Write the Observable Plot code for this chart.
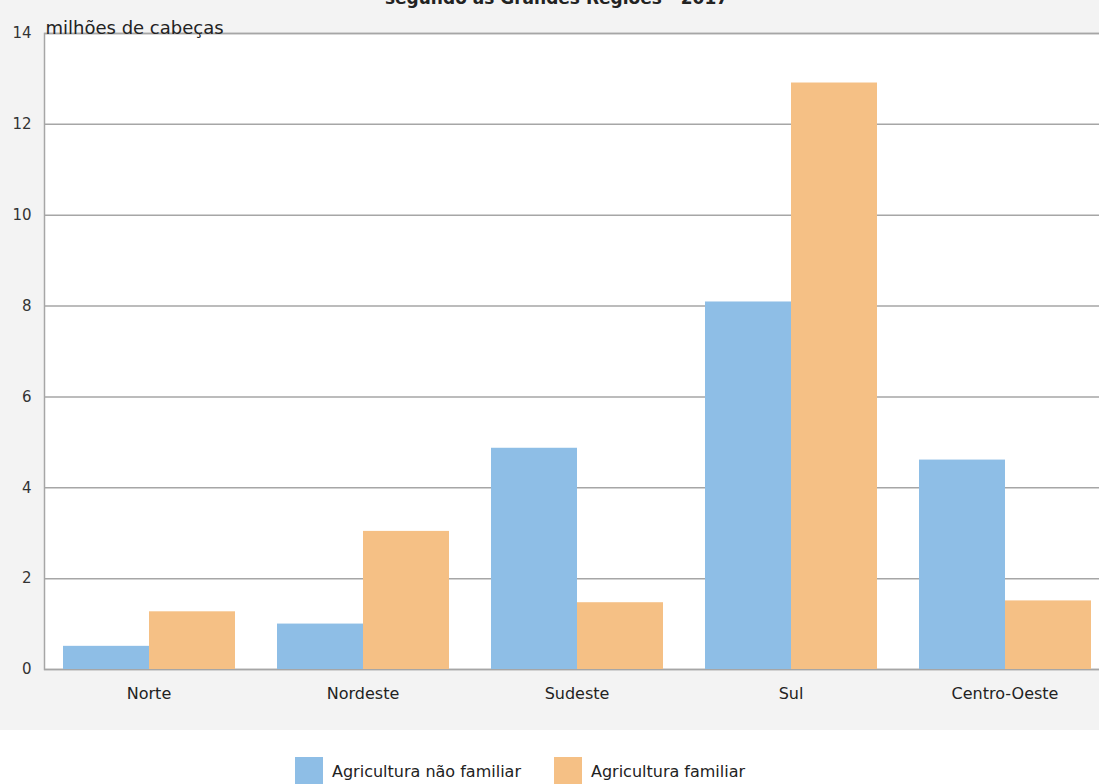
<!DOCTYPE html>
<html>
<head>
<meta charset="utf-8">
<script src="https://cdn.jsdelivr.net/npm/d3@7"></script>
<script src="https://cdn.jsdelivr.net/npm/@observablehq/plot@0.6"></script>
<style>
  html, body { margin: 0; padding: 0; background: #ffffff; overflow: hidden; width: 1099px; height: 784px; }
  body { font-family: "DejaVu Sans", sans-serif; color: #333; position: relative; }
  #chart { position: relative; width: 1099px; height: 730px; background: #f3f3f3; overflow: hidden; }
  #chart svg { position: absolute; left: 0; top: 0; max-width: none !important; width: 1110px; height: 730px !important; }
  #title { position: absolute; top: -12px; left: 0; width: 1113px; text-align: center;
           font-weight: bold; font-size: 17px; line-height: 20px; color: #222; z-index: 5; }
  #legend { display: flex; align-items: center; padding-left: 295px; margin-top: 27px; font-size: 16px; color: #222; }
  .sw { width: 28px; height: 28px; margin-right: 9px; flex: none; }
  .item { display: flex; align-items: center; margin-right: 33px; }
</style>
</head>
<body>
<div id="chart"><div id="title">segundo as Grandes Regiões - 2017</div></div>
<div id="legend"></div>
<script>
const regions = ["Norte", "Nordeste", "Sudeste", "Sul", "Centro-Oeste"];
const series = ["Agricultura não familiar", "Agricultura familiar"];
const naoFamiliar = [0.51, 1.00, 4.87, 8.09, 4.61];
const familiar = [1.27, 3.04, 1.47, 12.91, 1.51];
const colors = ["#8ebee6", "#f5c085"];
const yTicks = [0, 2, 4, 6, 8, 10, 12, 14];
const yLabel = "milhões de cabeças";

const data = [];
regions.forEach((r, i) => {
  data.push({region: r, series: series[0], value: naoFamiliar[i]});
  data.push({region: r, series: series[1], value: familiar[i]});
});

const W = 1110, H = 730;
const common = {
  width: W, height: H,
  marginLeft: 44, marginRight: 0, marginTop: 33, marginBottom: 61,
  y: {domain: [0, 14]}
};

const bg = Plot.plot({
  ...common,
  style: {background: "transparent", fontFamily: "DejaVu Sans, sans-serif", fontSize: "15px", color: "#333"},
  y: {domain: [0, 14], ticks: yTicks, tickSize: 0, tickPadding: 13, label: null, tickFormat: d => String(d)},
  x: {axis: null},
  marks: [
    Plot.frame({fill: "white", stroke: "#a6a6a6", strokeWidth: 1.5}),
    Plot.ruleY(yTicks, {stroke: "#a6a6a6", strokeWidth: 1.5}),
    Plot.text([yLabel], {frameAnchor: "top-left", text: d => d, dx: 1, dy: -12, textAnchor: "start", fontSize: 18, fill: "#222"})
  ]
});

const fg = Plot.plot({
  ...common,
  style: {background: "transparent", fontFamily: "DejaVu Sans, sans-serif", fontSize: "16px", color: "#222"},
  y: {domain: [0, 14], axis: null},
  x: {domain: series, axis: null, padding: 0},
  fx: {domain: regions, axis: "bottom", label: null, tickSize: 0, tickPadding: 18, paddingInner: 0.19, paddingOuter: 0.085},
  color: {domain: series, range: colors},
  marks: [
    Plot.barY(data, {fx: "region", x: "series", y: "value", fill: "series"})
  ]
});

const chart = document.getElementById("chart");
chart.appendChild(bg);
chart.appendChild(fg);

const legend = document.getElementById("legend");
series.forEach((s, i) => {
  const item = document.createElement("div");
  item.className = "item";
  const sw = document.createElement("div");
  sw.className = "sw";
  sw.style.background = colors[i];
  const t = document.createElement("span");
  t.textContent = s;
  item.appendChild(sw);
  item.appendChild(t);
  legend.appendChild(item);
});
</script>
</body>
</html>
